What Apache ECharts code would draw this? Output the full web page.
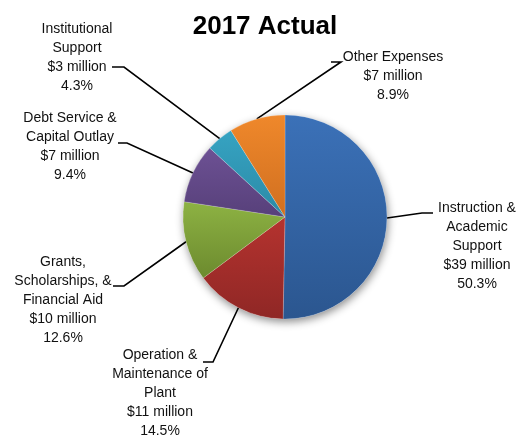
<!DOCTYPE html>
<html>
<head>
<meta charset="utf-8">
<script src="https://cdn.jsdelivr.net/npm/echarts@6/dist/echarts.min.js"></script>
<style>
html,body{margin:0;padding:0;background:#fff;}
#chart{width:519px;height:439px;}
</style>
</head>
<body>
<div id="chart"></div>
<script>
const categories = ["Instruction &\nAcademic\nSupport", "Operation &\nMaintenance of\nPlant", "Grants,\nScholarships, &\nFinancial Aid", "Debt Service &\nCapital Outlay", "Institutional\nSupport", "Other Expenses"];
const amounts = ["$39 million", "$11 million", "$10 million", "$7 million", "$3 million", "$7 million"];
const percents = [50.3, 14.5, 12.6, 9.4, 4.3, 8.9];

const colorsTop = ["#3b71b8", "#b5332f", "#8db243", "#6d5194", "#36a3c2", "#ef882b"];
const colorsBot = ["#2b568f", "#8f2725", "#6c8a2e", "#57407a", "#2b8aa6", "#d06f20"];

// label layout (centers) and leader line knees
const labelPos = [
  {x: 477, y: 246, k1: [422, 213], k2: [433, 213]},
  {x: 160, y: 393, k1: [213, 362], k2: [203, 362]},
  {x: 63, y: 300, k1: [124, 286], k2: [113, 286]},
  {x: 70, y: 147, k1: [127, 143], k2: [118, 143]},
  {x: 77, y: 57.5, k1: [124, 67], k2: [112, 67]},
  {x: 393, y: 76.5, k1: [341, 62], k2: [331, 62]}
];

const data = categories.map((c, i) => ({
  name: c,
  value: percents[i],
  itemStyle: {
    color: new echarts.graphic.LinearGradient(0, 0, 0, 1, [
      {offset: 0, color: colorsTop[i]},
      {offset: 1, color: colorsBot[i]}
    ])
  },
  label: { formatter: c + "\n" + amounts[i] + "\n" + percents[i].toFixed(1) + "%" }
}));

const total = percents.reduce((a, b) => a + b, 0);

const chart = echarts.init(document.getElementById('chart'), null, {renderer: 'canvas'});
chart.setOption({
  animation: false,
  backgroundColor: '#ffffff',
  title: {
    text: '2017 Actual',
    left: 260, top: 9, textAlign: 'center',
    textStyle: {fontFamily: 'Liberation Sans', fontWeight: 'bold', fontSize: 26, color: '#000'}
  },
  series: [
    {
      type: 'pie',
      center: [285, 217],
      radius: [0, 102],
      silent: true,
      z: 1,
      label: {show: false},
      labelLine: {show: false},
      data: [{value: total, itemStyle: {color: '#ffffff', shadowBlur: 8, shadowOffsetY: 3, shadowOffsetX: 1, shadowColor: 'rgba(0,0,0,0.45)'}}]
    },
    {
      type: 'pie',
      center: [285, 217],
      radius: [0, 102],
      startAngle: 90,
      clockwise: true,
      z: 2,
      itemStyle: {borderColor: 'rgba(255,255,255,0.35)', borderWidth: 0.5},
      label: {
        show: true,
        fontFamily: 'Liberation Sans',
        fontSize: 14,
        lineHeight: 19,
        color: '#111',
        align: 'center',
        overflow: 'none',
        width: 140
      },
      labelLine: {show: true, lineStyle: {color: '#000', width: 1.6}},
      labelLayout: function (p) {
        const lp = labelPos[p.dataIndex];
        const p0 = p.labelLinePoints ? p.labelLinePoints[0] : lp.k1;
        return {
          x: lp.x, y: lp.y, align: 'center', verticalAlign: 'middle',
          labelLinePoints: [p0, lp.k1, lp.k2]
        };
      },
      data: data
    }
  ]
});
</script>
</body>
</html>
